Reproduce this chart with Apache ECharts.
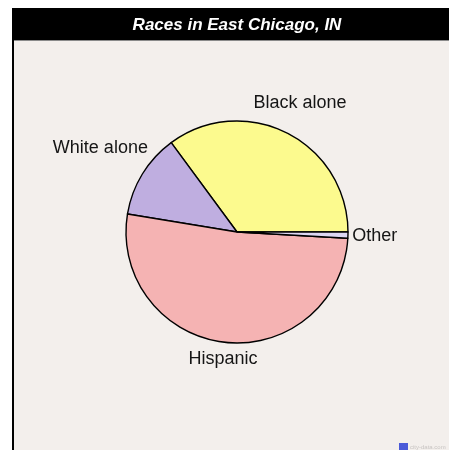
<!DOCTYPE html>
<html>
<head>
<meta charset="utf-8">
<script src="https://cdn.jsdelivr.net/npm/echarts@6/dist/echarts.min.js"></script>
<style>
html,body{margin:0;padding:0;background:#fff;}
#chart{width:449px;height:450px;}
</style>
</head>
<body>
<div id="chart"></div>
<script>
var titleText = 'Races in East Chicago, IN';
var categories = ['Black alone', 'White alone', 'Hispanic', 'Other'];
var values = [35.1, 12.3, 51.7, 0.9];
var colors = ['#fcfa8e', '#bfaee0', '#f5b3b3', '#ddd7f3'];

var CX = 237, CY = 232, R = 111, GAP = 4, START = 0;

var chart = echarts.init(document.getElementById('chart'), null, {renderer: 'canvas'});
var total = values.reduce(function (a, b) { return a + b; }, 0);

function midAngle(i) {
  var s = 0;
  for (var k = 0; k < i; k++) s += values[k];
  return (START + (s + values[i] / 2) / total * 360) * Math.PI / 180;
}

chart.setOption({
  backgroundColor: '#ffffff',
  animation: false,
  title: {
    text: titleText,
    left: 237,
    top: 17,
    textAlign: 'center',
    padding: 0,
    textStyle: {
      color: '#ffffff',
      fontFamily: 'Liberation Sans, Arial, sans-serif',
      fontStyle: 'italic',
      fontWeight: 'bold',
      fontSize: 17
    }
  },
  graphic: [
    {type: 'rect', z: 0, shape: {x: 12, y: 8, width: 437, height: 442}, style: {fill: '#f3efec'}},
    {type: 'rect', z: 1, shape: {x: 12, y: 8, width: 2, height: 442}, style: {fill: '#000'}},
    {type: 'rect', z: 1, shape: {x: 12, y: 8, width: 437, height: 32}, style: {fill: '#000'}},
    {type: 'rect', z: 1, shape: {x: 14, y: 40, width: 435, height: 1}, style: {fill: '#8a8a8a'}},
    {type: 'rect', z: 1, shape: {x: 399, y: 443, width: 9, height: 7}, style: {fill: '#4a5ad8'}},
    {type: 'text', z: 1, x: 410, y: 444, style: {text: 'city-data.com', fill: '#c8c4c2', fontSize: 6, fontFamily: 'Liberation Sans, Arial, sans-serif'}}
  ],
  series: [{
    type: 'pie',
    center: [CX, CY],
    radius: R,
    startAngle: START,
    clockwise: false,
    avoidLabelOverlap: false,
    silent: true,
    data: categories.map(function (c, i) {
      return {name: c, value: values[i], itemStyle: {color: colors[i]}};
    }),
    itemStyle: {borderColor: '#000', borderWidth: 1.4},
    label: {
      show: true,
      position: 'outside',
      formatter: '{b}',
      color: '#151515',
      fontSize: 18,
      fontFamily: 'Liberation Sans, Arial, sans-serif'
    },
    labelLine: {show: false},
    labelLayout: function (p) {
      var a = midAngle(p.dataIndex);
      var c = Math.cos(a), s = Math.sin(a);
      var w = p.labelRect.width / 2, h = p.labelRect.height / 2;
      var D = R + GAP + w * Math.abs(c) + h * Math.abs(s);
      return {x: CX + D * c - (p.dataIndex === 0 ? 2 : 0), y: CY - D * s, align: 'center', verticalAlign: 'middle'};
    }
  }]
});
</script>
</body>
</html>
